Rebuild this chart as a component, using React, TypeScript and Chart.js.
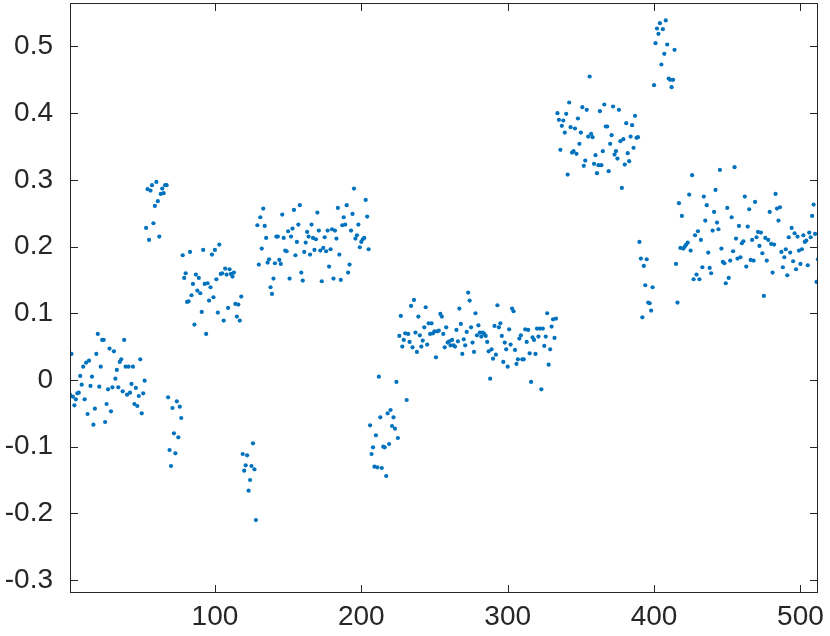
import React, { useEffect, useRef } from "react";
import { Chart, registerables } from "chart.js";

Chart.register(...registerables);

// y values, consecutive samples starting at x = 1
const segA = [-0.022, 0.039, -0.025, -0.038, -0.029, -0.020, -0.019, 0.006, -0.007, 0.020, -0.029, 0.026, -0.051, 0.029, -0.009, 0.005, -0.067, -0.043, 0.039, 0.069, -0.010, 0.020, 0.060, 0.060, -0.063, -0.036, -0.014, 0.047, -0.047, -0.011, 0.043, 0.002, 0.015, -0.011, 0.027, 0.031, -0.017, 0.060, 0.020, -0.022, 0.020, -0.019, -0.006, 0.020, -0.036, -0.012, -0.039, -0.024, 0.031, -0.050, -0.020, -0.001];
const segB = [0.228, 0.286, 0.210, 0.284, 0.292, 0.235, 0.261, 0.297, 0.268, 0.215, 0.279, 0.287, 0.280, 0.292, 0.292];
const segC = [-0.026, -0.105, -0.129, -0.042, -0.080, -0.110, -0.032, -0.086, -0.040, -0.057];
const segD = [0.187, 0.153, 0.160, 0.117, 0.118, 0.192, 0.127, 0.144, 0.083, 0.158, 0.134, 0.153, 0.130, 0.102, 0.195, 0.144, 0.069, 0.145, 0.119, 0.139, 0.188, 0.124, 0.195, 0.151, 0.101, 0.203, 0.159, 0.160, 0.089, 0.167, 0.158, 0.108, 0.166, 0.159, 0.155, 0.161, 0.114, 0.095, 0.113, 0.089, 0.125];
const segE = [-0.111, -0.136, -0.128, -0.113, -0.166, -0.150, -0.129, -0.095, -0.134, -0.210];
const segF = [0.232, 0.173, 0.244, 0.197, 0.257, 0.231, 0.213, 0.176, 0.181, 0.139,
  0.129, 0.152, 0.175, 0.215, 0.215, 0.180, 0.174, 0.248, 0.213, 0.194,
  0.193, 0.223, 0.152, 0.215, 0.227, 0.255, 0.187, 0.207, 0.233, 0.262,
  0.161, 0.149, 0.192, 0.206, 0.222, 0.215, 0.188, 0.233, 0.213, 0.195,
  0.211, 0.251, 0.224, 0.194, 0.148, 0.198, 0.214, 0.193, 0.224, 0.170,
  0.196, 0.226, 0.152, 0.224, 0.212, 0.258, 0.188, 0.150, 0.232, 0.244,
  0.233, 0.262, 0.161, 0.173, 0.224, 0.249, 0.287, 0.212, 0.217, 0.233,
  0.199, 0.207, 0.211, 0.213, 0.270, 0.245, 0.196];
const segG = [-0.068, -0.111, -0.101, -0.130, -0.083, -0.131, 0.005, -0.056, -0.132, -0.100, -0.101, -0.144, -0.050, -0.096, -0.045, -0.069, -0.056, -0.073, -0.003, -0.087];
const segH = [0.066, 0.096, 0.050, 0.060, 0.070, -0.030, 0.069, 0.057, 0.111, 0.049,
  0.120, 0.071, 0.042, 0.095, 0.067, 0.050, 0.059, 0.079, 0.109, 0.053,
  0.085, 0.069, 0.085, 0.070, 0.073, 0.034, 0.073, 0.074, 0.099, 0.095,
  0.069, 0.049, 0.079, 0.056, 0.058, 0.052, 0.060, 0.052, 0.050, 0.075,
  0.058, 0.107, 0.084, 0.039, 0.061, 0.052, 0.072, 0.131, 0.119, 0.079,
  0.056, 0.042, 0.100, 0.067, 0.082];
const segI = [0.071, 0.065, 0.071, 0.069, 0.066, 0.057, 0.043, 0.002, 0.046, 0.032,
  0.081, 0.038, 0.112, 0.079, 0.085, 0.066, 0.027, 0.056, 0.046, 0.020,
  0.076, 0.053, 0.107, 0.103, 0.045, 0.024, 0.031, 0.062, 0.067, 0.031,
  0.031, 0.076, 0.057, 0.075, 0.040, -0.003, 0.064, 0.060, 0.039, 0.077,
  0.065, 0.077, -0.014, 0.077, 0.051, 0.065, 0.100, 0.023, 0.046, 0.080,
  0.091, 0.063, 0.092];
const segJ = [0.400, 0.390, 0.345, 0.381, 0.389, 0.371, 0.399, 0.308, 0.416, 0.379,
  0.341, 0.343, 0.377, 0.339, 0.392, 0.354, 0.371, 0.409, 0.321, 0.329,
  0.405, 0.365, 0.455, 0.369, 0.364, 0.324, 0.337, 0.310, 0.322, 0.403,
  0.322, 0.343, 0.413, 0.380, 0.380, 0.313, 0.354, 0.367, 0.410, 0.338,
  0.343, 0.332, 0.405, 0.358, 0.288, 0.361, 0.323, 0.385, 0.340, 0.328,
  0.365, 0.382, 0.348, 0.396, 0.363, 0.364];
const segK = [0.207, 0.182, 0.094, 0.171, 0.142, 0.181, 0.116, 0.115, 0.104, 0.139];
const segL = [0.442, 0.505, 0.527, 0.519, 0.535, 0.473, 0.526, 0.489, 0.539, 0.503, 0.452, 0.450, 0.439, 0.450, 0.495];
const segM = [0.174, 0.116, 0.265, 0.198, 0.246, 0.197, 0.200, 0.203, 0.206, 0.278,
  0.194, 0.307, 0.151, 0.217, 0.158, 0.223, 0.151, 0.210, 0.169, 0.275,
  0.239, 0.262, 0.191, 0.168, 0.160, 0.224, 0.252, 0.285, 0.236, 0.226,
  0.315, 0.197, 0.177, 0.175, 0.145, 0.258, 0.153, 0.179, 0.244, 0.193,
  0.319, 0.212, 0.182, 0.231, 0.184, 0.205, 0.208, 0.275, 0.170, 0.230,
  0.256, 0.180];
const segN = [0.210, 0.179, 0.267, 0.214, 0.222, 0.201, 0.221, 0.190, 0.126, 0.213,
  0.179, 0.210, 0.252, 0.204, 0.161, 0.203, 0.279, 0.257, 0.239, 0.259,
  0.192, 0.169, 0.184, 0.196, 0.157, 0.214, 0.191, 0.228, 0.178, 0.220,
  0.166, 0.215, 0.194, 0.174, 0.196, 0.217, 0.207, 0.209, 0.172, 0.221,
  0.214, 0.246, 0.263, 0.219, 0.147, 0.181];

const xTicks = [100, 200, 300, 400, 500];
const yTicks = [-0.3, -0.2, -0.1, 0, 0.1, 0.2, 0.3, 0.4, 0.5];
const xMin = 1;
const xMax = 512;
const yMin = -0.3194;
const yMax = 0.5652;

const allY = [...segA, ...segB, ...segC, ...segD, ...segE, ...segF, ...segG, ...segH, ...segI, ...segJ, ...segK, ...segL, ...segM, ...segN];

const AXIS = "#262626";
const TICK_LEN = 7.5;

const boxPlugin = {
  id: "matlabBox",
  afterDraw(chart: any) {
    const { ctx, chartArea, scales } = chart;
    const { left, right, top, bottom } = chartArea;
    ctx.save();
    ctx.strokeStyle = AXIS;
    ctx.lineWidth = 1;
    const L = Math.round(left) + 0.5;
    const R = Math.round(right) - 0.5;
    const T = Math.round(top) + 0.5;
    const B = Math.round(bottom) - 0.5;
    ctx.strokeRect(L, T, R - L, B - T);
    ctx.beginPath();
    xTicks.forEach((v) => {
      const px = Math.round(scales.x.getPixelForValue(v)) + 0.5;
      ctx.moveTo(px, B);
      ctx.lineTo(px, B - TICK_LEN);
      ctx.moveTo(px, T);
      ctx.lineTo(px, T + TICK_LEN);
    });
    yTicks.forEach((v) => {
      const py = Math.round(scales.y.getPixelForValue(v)) + 0.5;
      ctx.moveTo(L, py);
      ctx.lineTo(L + TICK_LEN, py);
      ctx.moveTo(R, py);
      ctx.lineTo(R - TICK_LEN, py);
    });
    ctx.stroke();
    ctx.restore();
  },
};

export default function App() {
  const ref = useRef<HTMLCanvasElement | null>(null);
  useEffect(() => {
    if (!ref.current) return;
    const data = allY.map((y, i) => ({ x: i + 1, y }));
    const font = { family: "'Liberation Sans', Arial, sans-serif", size: 28 };
    const chart = new Chart(ref.current, {
      type: "scatter",
      data: {
        datasets: [
          {
            data,
            backgroundColor: "#0072BD",
            borderColor: "#0072BD",
            pointRadius: 2.1,
            pointBorderWidth: 0,
            pointHoverRadius: 2.1,
          },
        ],
      },
      options: {
        responsive: false,
        animation: false,
        events: [],
        layout: { padding: { left: 0, right: 12, top: 3, bottom: 0 } },
        plugins: { legend: { display: false }, tooltip: { enabled: false } },
        scales: {
          x: {
            type: "linear",
            min: xMin,
            max: xMax,
            grid: { display: false, drawTicks: false },
            border: { display: false },
            afterBuildTicks: (s: any) => {
              s.ticks = xTicks.map((v) => ({ value: v }));
            },
            afterFit: (s: any) => {
              s.height = 43;
              s.paddingLeft = 0;
              s.paddingRight = 0;
            },
            ticks: {
              color: AXIS,
              font,
              padding: 7,
              maxRotation: 0,
              autoSkip: false,
              callback: (v: any) => String(v),
            },
          },
          y: {
            type: "linear",
            min: yMin,
            max: yMax,
            grid: { display: false, drawTicks: false },
            border: { display: false },
            afterBuildTicks: (s: any) => {
              s.ticks = yTicks.map((v) => ({ value: v }));
            },
            afterFit: (s: any) => {
              s.width = 70;
              s.paddingTop = 0;
              s.paddingBottom = 0;
            },
            ticks: {
              color: AXIS,
              font,
              padding: 17,
              autoSkip: false,
              callback: (v: any) => {
                const n = Number(v);
                if (Math.abs(n) < 1e-9) return "0";
                return n.toFixed(1);
              },
            },
          },
        },
      },
      plugins: [boxPlugin],
    } as any);
    return () => chart.destroy();
  }, []);
  return (
    <div style={{ position: "fixed", left: 0, top: 0, width: 830, height: 636, background: "#fff" }}>
      <canvas ref={ref} width={830} height={636} style={{ display: "block" }} />
    </div>
  );
}
